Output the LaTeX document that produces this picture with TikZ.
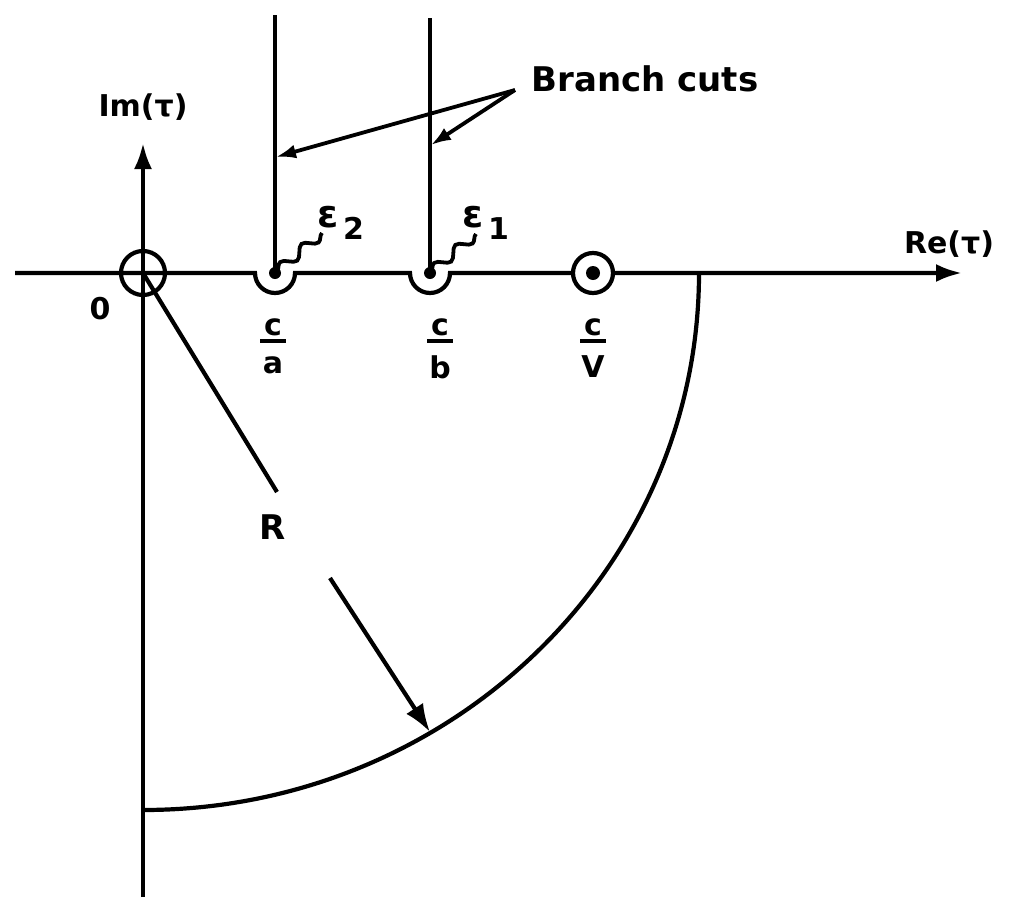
\documentclass[tikz,border=0pt]{standalone}
\usepackage{fontspec}
\setmainfont{DejaVu Sans}
\usepackage{tikz}
\usetikzlibrary{positioning,arrows.meta,calc,decorations.pathmorphing}

\begin{document}
\begin{tikzpicture}[
  x=0.5pt, y=-0.5pt,
  font=\bfseries\fontsize{15}{18}\selectfont,
  axisline/.style={line width=2.1pt, -{Latex[length=13pt,width=9pt]}},
  cutline/.style={line width=2.1pt},
  pointer/.style={line width=1.9pt, -{Latex[length=10pt,width=7pt]}},
  bigpointer/.style={line width=2.1pt, -{Latex[length=14pt,width=10pt]}},
  squiggle/.style={line width=1.9pt, decorate,
                   decoration={snake, amplitude=2.5pt, segment length=14pt}},
  lbl/.style={inner sep=0pt},
  biglbl/.style={lbl, font=\bfseries\fontsize{17}{20}\selectfont},
  ratio/.style={lbl, align=center, anchor=north,
                font=\bfseries\fontsize{15}{10}\selectfont},
]
\useasboundingbox (0,0) rectangle (1012,900);

% ---- Puntos sobre el eje real ----
\coordinate (O)  at (143,273);
\coordinate (ca) at (275,273);
\coordinate (cb) at (430,273);
\coordinate (cV) at (593,273);
\coordinate (reL) at (15,273);
\coordinate (reR) at (962,273);
\coordinate (imB) at (143,897);
\coordinate (imT) at (143,143);

% ---- Ejes (con las sangrías bajo los puntos de rama) ----
\draw[axisline] (reL) -- ($(ca)+(-20,0)$) arc[start angle=180, end angle=0, radius=20]
                      -- ($(cb)+(-20,0)$) arc[start angle=180, end angle=0, radius=20]
                      -- (reR);
\draw[axisline] (imB) -- (imT);

% ---- Cortes de rama ----
\coordinate (caTop) at (275,15);
\coordinate (cbTop) at (430,18);
\draw[cutline] (ca) -- (caTop);
\draw[cutline] (cb) -- (cbTop);

% ---- Polos y puntos ----
\draw[cutline] (O) circle[radius=22];
\draw[cutline, fill=white] (cV) circle[radius=20];
\fill (cV) circle[radius=7];
\fill (ca) circle[radius=6];
\fill (cb) circle[radius=6];

% ---- Arco de radio R ----
\coordinate (arcS) at (699,273);
\draw[cutline] (arcS) arc[start angle=0, end angle=90, x radius=556, y radius=537];

% ---- Radio ----
\coordinate (rEnd)  at (277,492);
\coordinate (rTail) at (330,578);
\coordinate (rHead) at (430,732);
\draw[cutline] (O) -- (rEnd);
\node[biglbl] (rlab) at (273,527) {R};
\draw[bigpointer] (rTail) -- (rHead);

% ---- Etiquetas de los ejes ----
\node[lbl] (im)   at (143,107) {Im(τ)};
\node[lbl] (re)   at (949,244) {Re(τ)};
\node[lbl] (zero) at (100,309) {0};

% ---- Fracciones bajo el eje ----
\node[ratio] (fa) at (273,318) {c\\[-6pt]\rule{13pt}{2pt}\\[5pt]a};
\node[ratio] (fb) at (440,318) {c\\[-6pt]\rule{13pt}{2pt}\\[5pt]b};
\node[ratio] (fV) at (593,318) {c\\[-6pt]\rule{13pt}{2pt}\\[5pt]V};

% ---- Radios de las sangrías ----
\node[lbl] (e2) at (341,223) {{\fontsize{19}{19}\selectfont ε}\hspace{2pt}\raisebox{-6pt}{2}};
\node[lbl] (e1) at (486,223) {{\fontsize{19}{19}\selectfont ε}\hspace{2pt}\raisebox{-6pt}{1}};
\coordinate (e2tail) at (322,233);
\coordinate (e1tail) at (476,234);
\draw[squiggle] (e2tail) -- (ca);
\draw[squiggle] (e1tail) -- (cb);

% ---- Rótulo de los cortes ----
\node[biglbl] (bcut) at (645,79) {Branch cuts};
\coordinate (bsrc) at (515,90);
\coordinate (tipA) at (276,157);
\coordinate (tipB) at (431,145);
\draw[pointer] (bsrc) -- (tipA);
\draw[pointer] (bsrc) -- (tipB);

\end{tikzpicture}
\end{document}
